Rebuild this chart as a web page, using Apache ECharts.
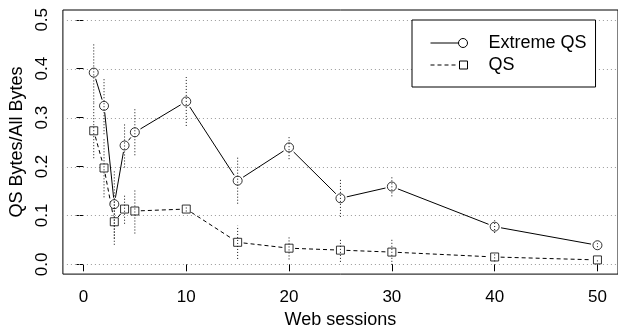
<!DOCTYPE html>
<html>
<head>
<meta charset="utf-8">
<script src="https://cdn.jsdelivr.net/npm/echarts@6/dist/echarts.min.js"></script>
<style>
  html, body { margin: 0; padding: 0; background: #fff; }
  #chart { width: 618px; height: 334px; }
</style>
</head>
<body>
<div id="chart"></div>
<script>
// values
const sessions = [1, 2, 3, 4, 5, 10, 15, 20, 25, 30, 40, 50]
const extremeQS = [0.392, 0.324, 0.123, 0.243, 0.270, 0.333, 0.171, 0.239, 0.135, 0.159, 0.077, 0.039]
const extremeErr = [0.061, 0.058, 0.070, 0.045, 0.047, 0.050, 0.047, 0.024, 0.038, 0.020, 0.013, 0.004]
const qs = [0.273, 0.197, 0.087, 0.113, 0.109, 0.113, 0.045, 0.033, 0.029, 0.025, 0.015, 0.009]
const qsErr = [0.056, 0.060, 0.047, 0.030, 0.046, 0.005, 0.034, 0.023, 0.024, 0.026, 0.009, 0.003]
const xTicks = [0, 10, 20, 30, 40, 50]
const yTicks = [0, 0.1, 0.2, 0.3, 0.4, 0.5]

const FONT = '"Liberation Sans", Arial, Helvetica, sans-serif'

// R type="b": line segments that stop short of the points
function segments (ys, gap, dash) {
  return function (params, api) {
    const i = params.dataIndex
    if (i >= sessions.length - 1) return null
    const a = api.coord([sessions[i], ys[i]])
    const b = api.coord([sessions[i + 1], ys[i + 1]])
    const dx = b[0] - a[0]
    const dy = b[1] - a[1]
    const len = Math.hypot(dx, dy)
    if (len <= 2 * gap) return null
    const ux = dx / len
    const uy = dy / len
    return {
      type: 'line',
      shape: { x1: a[0] + ux * gap, y1: a[1] + uy * gap, x2: b[0] - ux * gap, y2: b[1] - uy * gap },
      style: { stroke: '#000', lineWidth: 1, lineDash: dash }
    }
  }
}

function errorBar (params, api) {
  const a = api.coord([api.value(0), api.value(1)])
  const b = api.coord([api.value(0), api.value(2)])
  return {
    type: 'line',
    shape: { x1: a[0], y1: a[1], x2: b[0], y2: b[1] },
    style: { stroke: '#111', lineWidth: 1, lineDash: [1, 2] }
  }
}

// dotted horizontal reference lines at the y ticks, across the whole plot box
function gridLine (params, api) {
  const y = api.value(0)
  const left = api.coord([-2, y])
  const right = api.coord([52, y])
  const yy = Math.round(left[1]) + 0.5
  return {
    type: 'line',
    shape: { x1: left[0], y1: yy, x2: right[0], y2: yy },
    style: { stroke: '#999', lineWidth: 1, lineDash: [1, 3] }
  }
}

const pairs = (ys) => sessions.map((x, i) => [x, ys[i]])
const bars = (ys, err) => sessions.map((x, i) => [x, ys[i] - err[i], ys[i] + err[i]])

const circleIcon = 'path://M0 4.5 L28 4.5 M37 4.5 A4.5 4.5 0 1 1 28 4.5 A4.5 4.5 0 1 1 37 4.5'
const squareIcon = 'path://M0 0 M0 9 M0 4.5 L4 4.5 M7 4.5 L11 4.5 M14 4.5 L18 4.5 M21 4.5 L25 4.5 M29 0.5 L37 0.5 L37 8.5 L29 8.5 Z'

const chart = echarts.init(document.getElementById('chart'))
chart.setOption({
  animation: false,
  textStyle: { fontFamily: FONT },
  grid: {
    left: 62, top: 10, width: 558, height: 270,
    show: true, borderColor: '#000', borderWidth: 1, backgroundColor: 'transparent'
  },
  legend: {
    data: [
      { name: 'Extreme QS', icon: circleIcon },
      { name: 'QS', icon: squareIcon }
    ],
    orient: 'vertical',
    left: 412, top: 20,
    padding: [14, 9, 13, 16],
    itemGap: 4,
    itemWidth: 37,
    itemHeight: 9,
    backgroundColor: '#fff',
    borderColor: '#000',
    borderWidth: 1,
    borderRadius: 0,
    z: 10,
    selectedMode: false,
    itemStyle: { color: 'none', borderColor: '#000', borderWidth: 1 },
    textStyle: { fontFamily: FONT, fontSize: 18, color: '#000', padding: [0, 0, 0, 16] }
  },
  xAxis: {
    type: 'value',
    min: -2, max: 52,
    name: 'Web sessions',
    nameLocation: 'middle',
    nameGap: 33,
    nameTextStyle: { fontFamily: FONT, fontSize: 18, color: '#000' },
    axisLine: { show: false },
    axisTick: { show: true, length: 7, customValues: xTicks, lineStyle: { color: '#000' } },
    axisLabel: { customValues: xTicks, margin: 15, fontFamily: FONT, fontSize: 17, color: '#000' },
    splitLine: { show: false }
  },
  yAxis: {
    type: 'value',
    min: -0.02, max: 0.52,
    name: 'QS Bytes/All Bytes',
    nameLocation: 'middle',
    nameGap: 36,
    nameTextStyle: { fontFamily: FONT, fontSize: 18, color: '#000' },
    axisLine: { show: false },
    axisTick: { show: true, length: 7, customValues: yTicks, lineStyle: { color: '#000' } },
    axisLabel: {
      customValues: yTicks,
      rotate: 90,
      align: 'center',
      verticalAlign: 'bottom',
      margin: 12,
      fontFamily: FONT, fontSize: 17, color: '#000',
      formatter: (v) => v.toFixed(1)
    },
    splitLine: { show: false }
  },
  series: [
    {
      name: 'grid',
      type: 'custom',
      z: 1,
      silent: true,
      data: yTicks.map((v) => [v]),
      encode: { y: 0 },
      renderItem: gridLine
    },
    {
      name: 'Extreme QS',
      type: 'custom',
      z: 3,
      silent: true,
      data: pairs(extremeQS),
      encode: { x: 0, y: 1 },
      renderItem: segments(extremeQS, 6.5, null)
    },
    {
      name: 'QS',
      type: 'custom',
      z: 3,
      silent: true,
      data: pairs(qs),
      encode: { x: 0, y: 1 },
      renderItem: segments(qs, 6, [4, 3])
    },
    {
      name: 'Extreme QS',
      type: 'scatter',
      z: 4,
      silent: true,
      data: pairs(extremeQS),
      symbol: 'circle',
      symbolSize: 9,
      itemStyle: { color: '#fff', borderColor: '#000', borderWidth: 1 }
    },
    {
      name: 'QS',
      type: 'scatter',
      z: 4,
      silent: true,
      data: pairs(qs),
      symbol: 'rect',
      symbolSize: 8,
      itemStyle: { color: '#fff', borderColor: '#000', borderWidth: 1 }
    },
    {
      name: 'Extreme QS',
      type: 'custom',
      z: 5,
      silent: true,
      data: bars(extremeQS, extremeErr),
      encode: { x: 0, y: [1, 2] },
      renderItem: errorBar
    },
    {
      name: 'QS',
      type: 'custom',
      z: 5,
      silent: true,
      data: bars(qs, qsErr),
      encode: { x: 0, y: [1, 2] },
      renderItem: errorBar
    }
  ]
})
</script>
</body>
</html>
